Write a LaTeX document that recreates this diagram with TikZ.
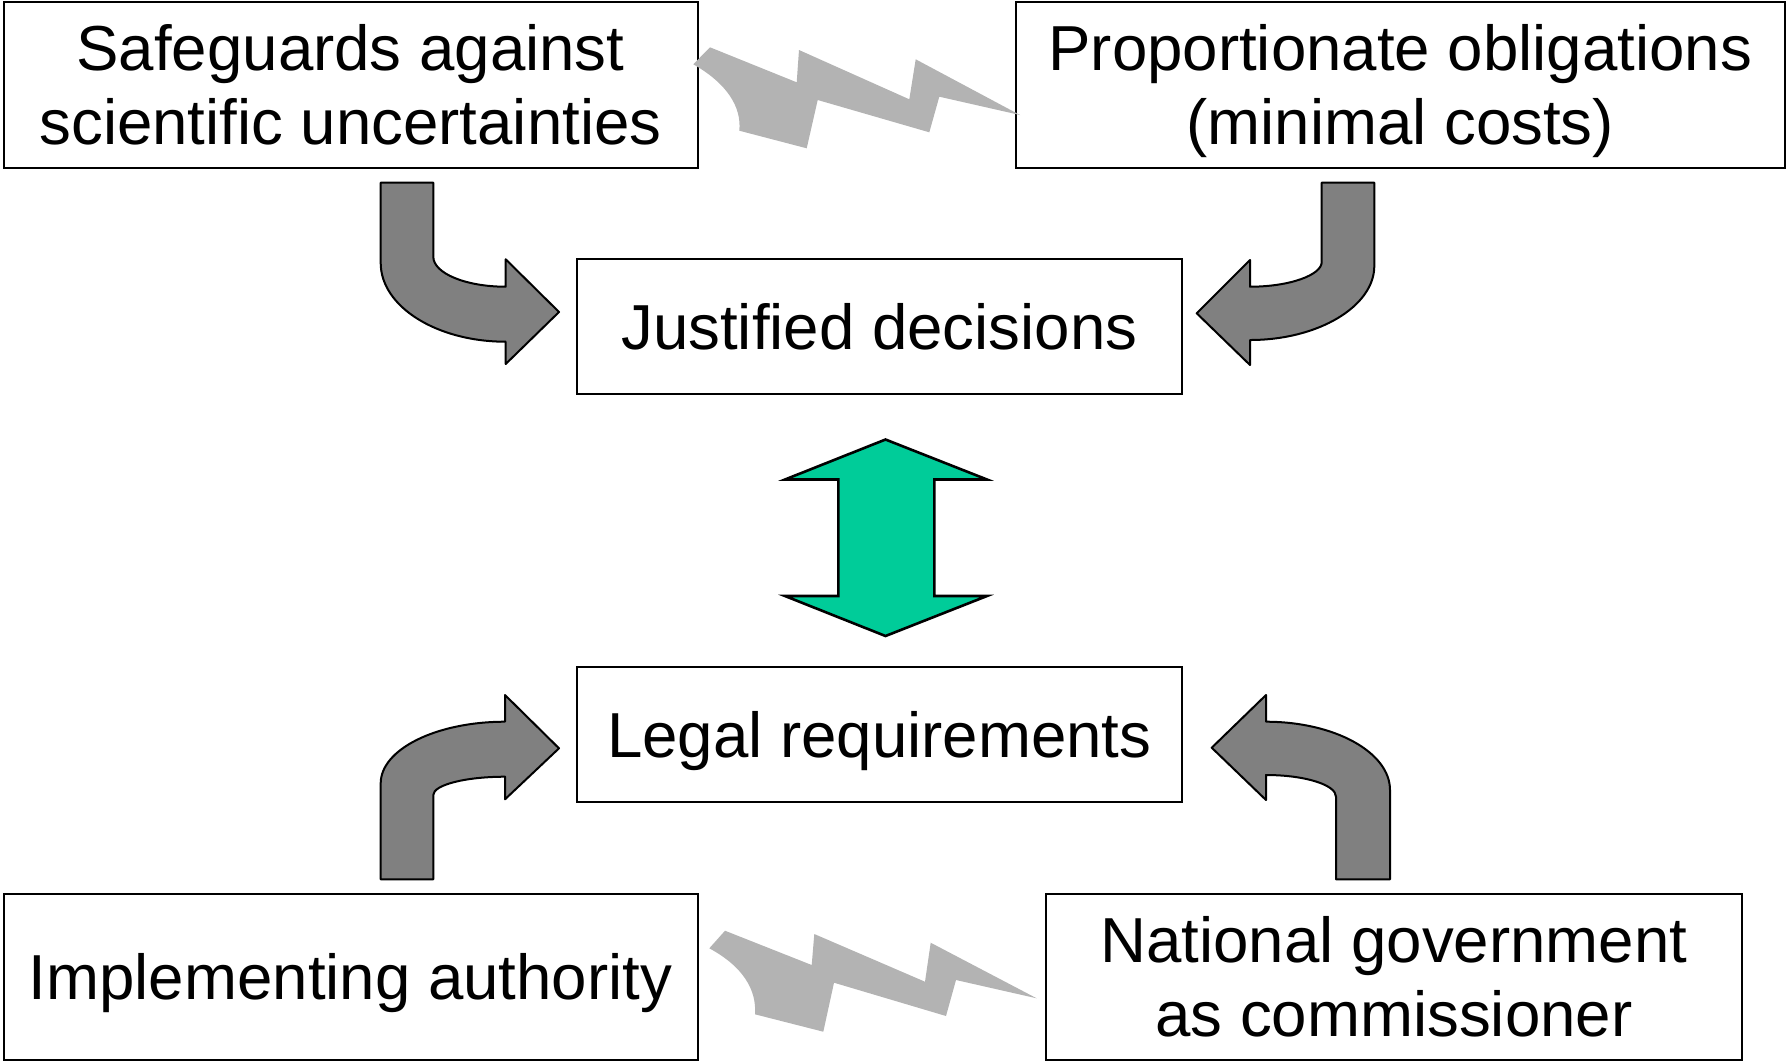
\documentclass[tikz,border=0pt]{standalone}
\usepackage{fontspec}
\setmainfont{Liberation Sans}
\definecolor{boltgray}{HTML}{B3B3B3}
\definecolor{arrgray}{HTML}{808080}
\definecolor{arrgreen}{HTML}{00CC99}
\newcommand{\capbox}[1]{\raisebox{0pt}[0.716em][0pt]{#1}}
\begin{document}
\begin{tikzpicture}[x=0.5pt,y=-0.5pt,
  txtbox/.style={draw=black,line width=1pt,fill=white,align=center,inner sep=0pt,
    font=\fontsize{31.8}{37}\selectfont},
  bentarrow/.style={draw=black,line width=1pt,fill=arrgray,line join=round},
  bolt/.style={fill=boltgray,draw=none},
  dblarrow/.style={draw=black,line width=1.3pt,fill=arrgreen,line join=miter}]
\useasboundingbox (0,0) rectangle (1787,1062);

% boxes
\node[txtbox,minimum width=347pt,minimum height=82.6pt] (safe) at (350.5,84.9) {Safeguards against\\scientific uncertainties};
\node[txtbox,minimum width=384.6pt,minimum height=82.6pt] (prop) at (1400.2,84.9) {Proportionate obligations\\\capbox{(minimal costs)}};
\node[txtbox,minimum width=302.6pt,minimum height=67.8pt] (just) at (879.3,326.5) {\capbox{Justified decisions}};
\node[txtbox,minimum width=302.6pt,minimum height=67.8pt] (legal) at (879.3,734.5) {\capbox{Legal requirements}};
\node[txtbox,minimum width=347pt,minimum height=83.2pt] (impl) at (350.5,976.7) {\capbox{Implementing authority}};
\node[txtbox,minimum width=347.6pt,minimum height=83.2pt] (natg) at (1393.9,976.7) {National government\\as commissioner};

% lightning bolts
\path[bolt] (710,47.3) -- (796.7,82.3) -- (799,50) -- (909.3,99.3) -- (915.7,59.3) -- (1020,115)
  -- (939.3,96.7) -- (929.3,132.3) -- (817.7,100) -- (806.7,148.3) -- (739.3,130.7)
  .. controls (741.7,106.7) and (726.7,83.3) .. (693.3,64.3) -- cycle;
\path[bolt] (725,930.7) -- (811.7,965) -- (814.3,934) -- (925,981.7) -- (930.7,942.7) -- (1036.7,998.3)
  -- (956,980) -- (946,1016) -- (834,982.7) -- (823.3,1031.7) -- (755,1014.3)
  .. controls (756.7,990) and (743.3,966.7) .. (709.3,948.3) -- cycle;

% bent arrows
\draw[bentarrow] (380.7,182.7) -- (433.3,182.7) -- (433.3,256.7)
  .. controls (433.3,273.3) and (465.7,286.7) .. (505.7,286.7)
  -- (505.7,259.3) -- (559,312) -- (505.7,364) -- (505.7,341.7)
  .. controls (436.7,341.7) and (380.7,306.5) .. (380.7,263) -- cycle;
\draw[bentarrow] (1374.3,182.7) -- (1321.7,182.7) -- (1321.7,262)
  .. controls (1321.7,275) and (1289.6,286.7) .. (1250,286.7)
  -- (1250,260) -- (1196.7,313.3) -- (1250,365) -- (1250,340)
  .. controls (1318.7,340) and (1374.3,306) .. (1374.3,266) -- cycle;
\draw[bentarrow] (380.7,879.3) -- (433.3,879.3) -- (433.3,795)
  .. controls (433.3,784.9) and (465.4,776.7) .. (505,776.7)
  -- (505,799.3) -- (559,748.3) -- (505,695) -- (505,721.7)
  .. controls (436.3,721.7) and (380.7,749.3) .. (380.7,783.3) -- cycle;
\draw[bentarrow] (1390,879.3) -- (1336,879.3) -- (1336,796.7)
  .. controls (1336,784.7) and (1304.7,775) .. (1266,775)
  -- (1266,800) -- (1211.7,747.7) -- (1266,695) -- (1266,721.7)
  .. controls (1334.5,721.7) and (1390,752.3) .. (1390,790) -- cycle;

% double arrow
\draw[dblarrow] (885.5,439.5) -- (987,479.5) -- (934.3,479.5) -- (934.3,596) -- (987,596)
  -- (885.5,636) -- (785,596) -- (838.3,596) -- (838.3,479.5) -- (785,479.5) -- cycle;
\end{tikzpicture}
\end{document}
